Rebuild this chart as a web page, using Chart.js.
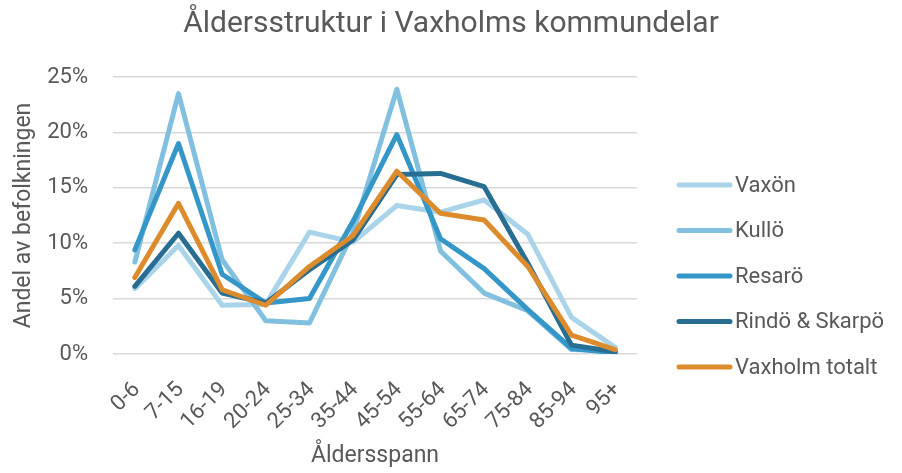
<!DOCTYPE html>
<html>
<head>
<meta charset="utf-8">
<script src="https://cdn.jsdelivr.net/npm/chart.js@4/dist/chart.umd.min.js"></script>
<style>
  html, body { margin: 0; padding: 0; background: #ffffff; }
  #wrap { width: 902px; height: 473px; }
</style>
</head>
<body>
<div id="wrap"><canvas id="chart" width="902" height="473"></canvas></div>
<script>
// Age groups
const ageGroups = ['0-6', '7-15', '16-19', '20-24', '25-34', '35-44', '45-54', '55-64', '65-74', '75-84', '85-94', '95+'];

// Share of population per age group (%)
const vaxon        = [5.9, 9.8, 4.4, 4.5, 11.0, 10.1, 13.4, 12.8, 13.9, 10.8, 3.3, 0.6];
const kullo        = [8.3, 23.5, 8.5, 3.0, 2.8, 11.0, 23.9, 9.3, 5.5, 3.9, 0.4, 0.3];
const resaro       = [9.4, 19.0, 7.2, 4.6, 5.0, 12.0, 19.8, 10.4, 7.7, 4.0, 0.5, 0.1];
const rindoSkarpo  = [6.1, 10.9, 5.5, 4.6, 7.6, 10.3, 16.2, 16.3, 15.1, 8.2, 0.8, 0.2];
const vaxholmTotal = [6.9, 13.6, 5.8, 4.4, 7.9, 10.7, 16.5, 12.7, 12.1, 7.9, 1.7, 0.4];

// Y axis ticks (%)
const yTicks = [0, 5, 10, 15, 20, 25];

const FONT = 'Roboto, "Liberation Sans", sans-serif';
const TEXT = '#595959';

function series(label, data, color, order) {
  return {
    label, data, order,
    borderColor: color,
    backgroundColor: color,
    borderWidth: 5,
    borderJoinStyle: 'round',
    borderCapStyle: 'round',
    pointRadius: 0,
    pointHoverRadius: 0,
    tension: 0,
    fill: false
  };
}

// Vertical legend on the right: a short line sample followed by the series name
const sideLegend = {
  id: 'sideLegend',
  afterDraw(chart) {
    const ctx = chart.ctx;
    const sets = chart.data.datasets;
    const x0 = 679, lineLen = 51, gap = 45.5;
    const yMid = 276;
    const yStart = yMid - gap * (sets.length - 1) / 2;
    ctx.save();
    ctx.font = '22px ' + FONT;
    ctx.textBaseline = 'middle';
    ctx.textAlign = 'left';
    sets.forEach((ds, i) => {
      const y = yStart + i * gap;
      ctx.strokeStyle = ds.borderColor;
      ctx.lineWidth = 5;
      ctx.lineCap = 'round';
      ctx.beginPath();
      ctx.moveTo(x0, y);
      ctx.lineTo(x0 + lineLen, y);
      ctx.stroke();
      ctx.fillStyle = TEXT;
      ctx.fillText(ds.label, x0 + lineLen + 5, y + 1);
    });
    ctx.restore();
  }
};

new Chart(document.getElementById('chart'), {
  type: 'line',
  data: {
    labels: ageGroups,
    datasets: [
      series('Vaxön', vaxon, '#a9d4e9', 5),
      series('Kullö', kullo, '#82c0e0', 4),
      series('Resarö', resaro, '#3596c8', 3),
      series('Rindö & Skarpö', rindoSkarpo, '#286e93', 2),
      series('Vaxholm totalt', vaxholmTotal, '#dc8b2d', 1)
    ]
  },
  plugins: [sideLegend],
  options: {
    responsive: false,
    animation: false,
    devicePixelRatio: 1,
    layout: { padding: { left: 0, right: 0, top: 0, bottom: 3 } },
    plugins: {
      tooltip: { enabled: false },
      legend: { display: false },
      title: {
        display: true,
        text: 'Åldersstruktur i Vaxholms kommundelar',
        color: TEXT,
        font: { family: FONT, size: 30, weight: 'normal' },
        padding: { top: 6, bottom: 35 }
      }
    },
    scales: {
      x: {
        offset: true,
        grid: { display: false, drawTicks: false },
        border: { display: false },
        ticks: {
          color: TEXT,
          font: { family: FONT, size: 22 },
          minRotation: 45,
          maxRotation: 45,
          autoSkip: false,
          padding: 23,
          labelOffset: 2
        },
        title: {
          display: true,
          text: 'Åldersspann',
          color: TEXT,
          font: { family: FONT, size: 23 },
          padding: { top: 2, bottom: 0 }
        },
        afterFit: (s) => { s.height = 116; }
      },
      y: {
        min: 0,
        max: 25,
        afterBuildTicks: (s) => { s.ticks = yTicks.map(v => ({ value: v })); },
        grid: { color: '#d9d9d9', lineWidth: 1.5, drawTicks: false },
        border: { display: false },
        ticks: {
          color: TEXT,
          font: { family: FONT, size: 22 },
          padding: 25,
          callback: (v) => v + '%'
        },
        title: {
          display: true,
          text: 'Andel av befolkningen',
          color: TEXT,
          font: { family: FONT, size: 23 },
          padding: { top: 10, bottom: 4 }
        },
        afterFit: (s) => { s.width = 113; }
      },
      // empty right-hand band that leaves room for the legend
      legendBand: {
        type: 'linear',
        position: 'right',
        display: true,
        grid: { display: false, drawTicks: false },
        border: { display: false },
        ticks: { display: false },
        afterFit: (s) => { s.width = 265; }
      }
    }
  }
});
</script>
</body>
</html>
